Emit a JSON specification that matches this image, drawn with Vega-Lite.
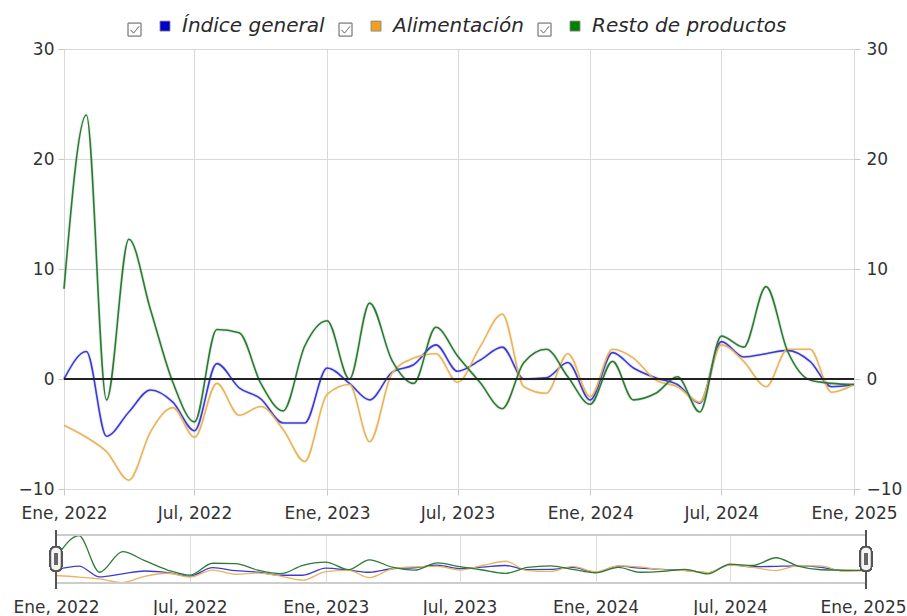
{
  "$schema": "https://vega.github.io/schema/vega-lite/v6.json",
  "background": "white",
  "padding": {"left": 12, "top": 16, "right": 0, "bottom": 0},
  "config": {
    "view": {"stroke": null},
    "font": "DejaVu Sans",
    "axis": {"labelFont": "DejaVu Sans", "labelFontSize": 17, "labelColor": "#333333", "gridColor": "#d9d9d9", "tickColor": "#c8c8c8", "domain": false, "title": null, "labelFlush": false, "labelOverlap": false}
  },
  "data": {"values": [
    {"fecha":"2022-01-01","Índice general":0,"Alimentación":-4.2,"Resto de productos":8.2},
    {"fecha":"2022-02-01","Índice general":2.5,"Alimentación":-5.3,"Resto de productos":24},
    {"fecha":"2022-03-01","Índice general":-5.2,"Alimentación":-6.6,"Resto de productos":-1.9},
    {"fecha":"2022-04-01","Índice general":-3.0,"Alimentación":-9.2,"Resto de productos":12.7},
    {"fecha":"2022-05-01","Índice general":-1.0,"Alimentación":-4.8,"Resto de productos":6.3},
    {"fecha":"2022-06-01","Índice general":-2.1,"Alimentación":-2.6,"Resto de productos":-0.3},
    {"fecha":"2022-07-01","Índice general":-4.7,"Alimentación":-5.3,"Resto de productos":-3.9},
    {"fecha":"2022-08-01","Índice general":1.4,"Alimentación":-0.4,"Resto de productos":4.5},
    {"fecha":"2022-09-01","Índice general":-0.8,"Alimentación":-3.3,"Resto de productos":4.2},
    {"fecha":"2022-10-01","Índice general":-1.8,"Alimentación":-2.5,"Resto de productos":-0.4},
    {"fecha":"2022-11-01","Índice general":-4.0,"Alimentación":-4.6,"Resto de productos":-2.9},
    {"fecha":"2022-12-01","Índice general":-4.0,"Alimentación":-7.5,"Resto de productos":3.0},
    {"fecha":"2023-01-01","Índice general":1.0,"Alimentación":-1.4,"Resto de productos":5.3},
    {"fecha":"2023-02-01","Índice general":-0.4,"Alimentación":-0.5,"Resto de productos":0.0},
    {"fecha":"2023-03-01","Índice general":-1.9,"Alimentación":-5.7,"Resto de productos":6.9},
    {"fecha":"2023-04-01","Índice general":0.6,"Alimentación":0.5,"Resto de productos":1.7},
    {"fecha":"2023-05-01","Índice general":1.3,"Alimentación":1.9,"Resto de productos":-0.4},
    {"fecha":"2023-06-01","Índice general":3.1,"Alimentación":2.3,"Resto de productos":4.7},
    {"fecha":"2023-07-01","Índice general":0.7,"Alimentación":-0.3,"Resto de productos":2.1},
    {"fecha":"2023-08-01","Índice general":1.7,"Alimentación":2.9,"Resto de productos":-0.3},
    {"fecha":"2023-09-01","Índice general":2.9,"Alimentación":5.9,"Resto de productos":-2.7},
    {"fecha":"2023-10-01","Índice general":0.0,"Alimentación":-0.7,"Resto de productos":1.5},
    {"fecha":"2023-11-01","Índice general":0.1,"Alimentación":-1.3,"Resto de productos":2.7},
    {"fecha":"2023-12-01","Índice general":1.5,"Alimentación":2.3,"Resto de productos":0.2},
    {"fecha":"2024-01-01","Índice general":-1.9,"Alimentación":-1.6,"Resto de productos":-2.3},
    {"fecha":"2024-02-01","Índice general":2.4,"Alimentación":2.7,"Resto de productos":1.6},
    {"fecha":"2024-03-01","Índice general":1.0,"Alimentación":1.9,"Resto de productos":-1.9},
    {"fecha":"2024-04-01","Índice general":0.1,"Alimentación":-0.1,"Resto de productos":-1.3},
    {"fecha":"2024-05-01","Índice general":-0.5,"Alimentación":-0.7,"Resto de productos":0.2},
    {"fecha":"2024-06-01","Índice general":-2.2,"Alimentación":-2.1,"Resto de productos":-3.0},
    {"fecha":"2024-07-01","Índice general":3.4,"Alimentación":3.1,"Resto de productos":3.9},
    {"fecha":"2024-08-01","Índice general":2.0,"Alimentación":1.6,"Resto de productos":2.9},
    {"fecha":"2024-09-01","Índice general":2.3,"Alimentación":-0.7,"Resto de productos":8.4},
    {"fecha":"2024-10-01","Índice general":2.6,"Alimentación":2.7,"Resto de productos":2.5},
    {"fecha":"2024-11-01","Índice general":1.6,"Alimentación":2.7,"Resto de productos":-0.1},
    {"fecha":"2024-12-01","Índice general":-0.7,"Alimentación":-1.2,"Resto de productos":-0.4},
    {"fecha":"2025-01-01","Índice general":-0.5,"Alimentación":-0.5,"Resto de productos":-0.5}
  ]},
  "transform": [{"fold": ["Índice general", "Alimentación", "Resto de productos"], "as": ["serie", "valor"]}],
  "bounds": "flush",
  "spacing": 46,
  "resolve": {"scale": {"stroke": "independent", "fill": "independent"}, "legend": {"stroke": "independent", "fill": "independent"}},
  "vconcat": [
    {
      "width": 790,
      "height": 440,
      "layer": [
        {
          "mark": {"type": "line", "interpolate": "monotone", "strokeWidth": 3.5, "strokeOpacity": 0.12},
          "encoding": {
            "x": {"field": "fecha", "type": "temporal", "scale": {"type": "utc", "nice": false},
              "axis": {"tickCount": {"interval": "month", "step": 6}, "labelExpr": "(utcmonth(datum.value) == 0 ? 'Ene' : 'Jul') + ', ' + utcyear(datum.value)", "grid": true, "ticks": true, "tickSize": 6, "labelPadding": 10}},
            "y": {"field": "valor", "type": "quantitative", "scale": {"domain": [-10, 30], "nice": false},
              "axis": {"values": [-10, 0, 10, 20, 30], "grid": true, "tickSize": 6, "labelPadding": 4}},
            "stroke": {"field": "serie", "type": "nominal",
              "scale": {"domain": ["Índice general", "Alimentación", "Resto de productos"], "range": ["#3c3cd2", "#e8b45e", "#2c7a34"]},
              "legend": null}
          }
        },
        {
          "mark": {"type": "line", "interpolate": "monotone", "strokeWidth": 1.6},
          "encoding": {
            "x": {"field": "fecha", "type": "temporal"},
            "y": {"field": "valor", "type": "quantitative", "scale": {"domain": [-10, 30], "nice": false}, "axis": null},
            "stroke": {"field": "serie", "type": "nominal",
              "scale": {"domain": ["Índice general", "Alimentación", "Resto de productos"], "range": ["#3c3cd2", "#e8b45e", "#2c7a34"]},
              "legend": null}
          }
        },
        {
          "mark": {"type": "point", "filled": true, "opacity": 0},
          "encoding": {
            "x": {"field": "fecha", "type": "temporal"},
            "y": {"field": "valor", "type": "quantitative", "scale": {"domain": [-10, 30], "nice": false}, "axis": null},
            "fill": {"field": "serie", "type": "nominal", "sort": ["Índice general", "Alimentación", "Resto de productos"],
              "scale": {"range": ["#0000cc", "#f0a020", "#008000"]},
              "legend": {"orient": "none", "legendX": 91, "legendY": -33, "direction": "horizontal", "title": null,
                "symbolType": "M -7.4 -0.6 L -4.8 -0.6 L -4.8 2 L -7.4 2 L -7.4 -0.6 L -7.4 2 L -4.8 2 L -4.8 -0.6 Z M -6.9 0.75 L -6.3 1.4 L -5.2 0.05 L -6.3 1.4 Z M -1 -1 L 1 -1 L 1 1 L -1 1 Z",
                "symbolSize": 100, "symbolStrokeColor": "#888888", "symbolStrokeWidth": 0.9, "symbolOpacity": 1,
                "labelFont": "DejaVu Sans", "labelFontSize": 20, "labelFontStyle": "italic", "labelColor": "#2a2a2a", "labelOffset": 7, "labelLimit": 400, "columnPadding": 12, "padding": 0,
                "encode": {"symbols": {"update": {"stroke": {"value": "#888888"}, "strokeWidth": {"value": 0.9}, "opacity": {"value": 1}}}}}}
          }
        },
        {
          "mark": {"type": "rule", "color": "#222222", "strokeWidth": 1.5},
          "encoding": {
            "y": {"datum": 0, "type": "quantitative", "scale": {"domain": [-10, 30], "nice": false},
              "axis": {"orient": "right", "values": [-10, 0, 10, 20, 30], "grid": false, "tickSize": 6, "labelPadding": 6}}
          }
        }
      ],
      "resolve": {"scale": {"y": "independent"}}
    },
    {
      "width": 802,
      "height": 48,
      "layer": [
        {
          "mark": {"type": "line", "interpolate": "monotone", "strokeWidth": 1.3},
          "encoding": {
            "x": {"field": "fecha", "type": "temporal", "scale": {"type": "utc", "nice": false, "range": [-8, 802]},
              "axis": {"tickCount": {"interval": "month", "step": 6}, "labelExpr": "(utcmonth(datum.value) == 0 ? 'Ene' : 'Jul') + ', ' + utcyear(datum.value)", "grid": true, "gridColor": "#dddddd", "ticks": false, "labelPadding": 16, "labelOffset": {"condition": {"test": "datum.index == 1", "value": -3}, "value": 0}}},
            "y": {"field": "valor", "type": "quantitative", "scale": {"domain": [-9.5, 24.5], "nice": false}, "axis": null},
            "stroke": {"field": "serie", "type": "nominal",
              "scale": {"domain": ["Índice general", "Alimentación", "Resto de productos"], "range": ["#3c3cd2", "#e8b45e", "#2c7a34"]}, "legend": null}
          }
        },
        {
          "mark": {"type": "rect", "filled": false, "stroke": "#cccccc", "strokeWidth": 1},
          "encoding": {
            "x": {"datum": {"year": 2022, "month": 1, "date": 1, "utc": true}, "type": "temporal"},
            "x2": {"datum": {"year": 2025, "month": 1, "date": 1, "utc": true}},
            "y": {"datum": 24.5, "type": "quantitative"},
            "y2": {"datum": -9.5}
          }
        },
        {
          "mark": {"type": "rule", "color": "#555555", "strokeWidth": 2},
          "encoding": {
            "x": {"datum": {"year": 2022, "month": 1, "date": 1, "utc": true}, "type": "temporal"},
            "y": {"datum": 28, "type": "quantitative"},
            "y2": {"datum": -13.8}
          }
        },
        {
          "mark": {"type": "rule", "color": "#555555", "strokeWidth": 2},
          "encoding": {
            "x": {"datum": {"year": 2025, "month": 1, "date": 1, "utc": true}, "type": "temporal"},
            "y": {"datum": 28, "type": "quantitative"},
            "y2": {"datum": -13.8}
          }
        },
        {
          "mark": {"type": "point", "shape": "M -0.46 -0.55 Q -0.46 -1 0 -1 Q 0.46 -1 0.46 -0.55 L 0.46 0.55 Q 0.46 1 0 1 Q -0.46 1 -0.46 0.55 Z", "size": 576, "filled": true, "fill": "#f4f4f4", "stroke": "#555555", "strokeWidth": 1.5, "opacity": 1},
          "encoding": {
            "x": {"datum": {"year": 2022, "month": 1, "date": 1, "utc": true}, "type": "temporal"},
            "y": {"datum": 7.5, "type": "quantitative"}
          }
        },
        {
          "mark": {"type": "point", "shape": "M -0.46 -0.55 Q -0.46 -1 0 -1 Q 0.46 -1 0.46 -0.55 L 0.46 0.55 Q 0.46 1 0 1 Q -0.46 1 -0.46 0.55 Z", "size": 576, "filled": true, "fill": "#f4f4f4", "stroke": "#555555", "strokeWidth": 1.5, "opacity": 1},
          "encoding": {
            "x": {"datum": {"year": 2025, "month": 1, "date": 1, "utc": true}, "type": "temporal"},
            "y": {"datum": 7.5, "type": "quantitative"}
          }
        },
        {
          "mark": {"type": "point", "shape": "M -0.15 -0.5 L 0.15 -0.5 L 0.15 0.5 L -0.15 0.5 Z", "size": 576, "filled": true, "fill": "#666666", "strokeWidth": 0, "opacity": 1},
          "encoding": {
            "x": {"datum": {"year": 2022, "month": 1, "date": 1, "utc": true}, "type": "temporal"},
            "y": {"datum": 7.5, "type": "quantitative"}
          }
        },
        {
          "mark": {"type": "point", "shape": "M -0.15 -0.5 L 0.15 -0.5 L 0.15 0.5 L -0.15 0.5 Z", "size": 576, "filled": true, "fill": "#666666", "strokeWidth": 0, "opacity": 1},
          "encoding": {
            "x": {"datum": {"year": 2025, "month": 1, "date": 1, "utc": true}, "type": "temporal"},
            "y": {"datum": 7.5, "type": "quantitative"}
          }
        }
      ]
    }
  ]
}
